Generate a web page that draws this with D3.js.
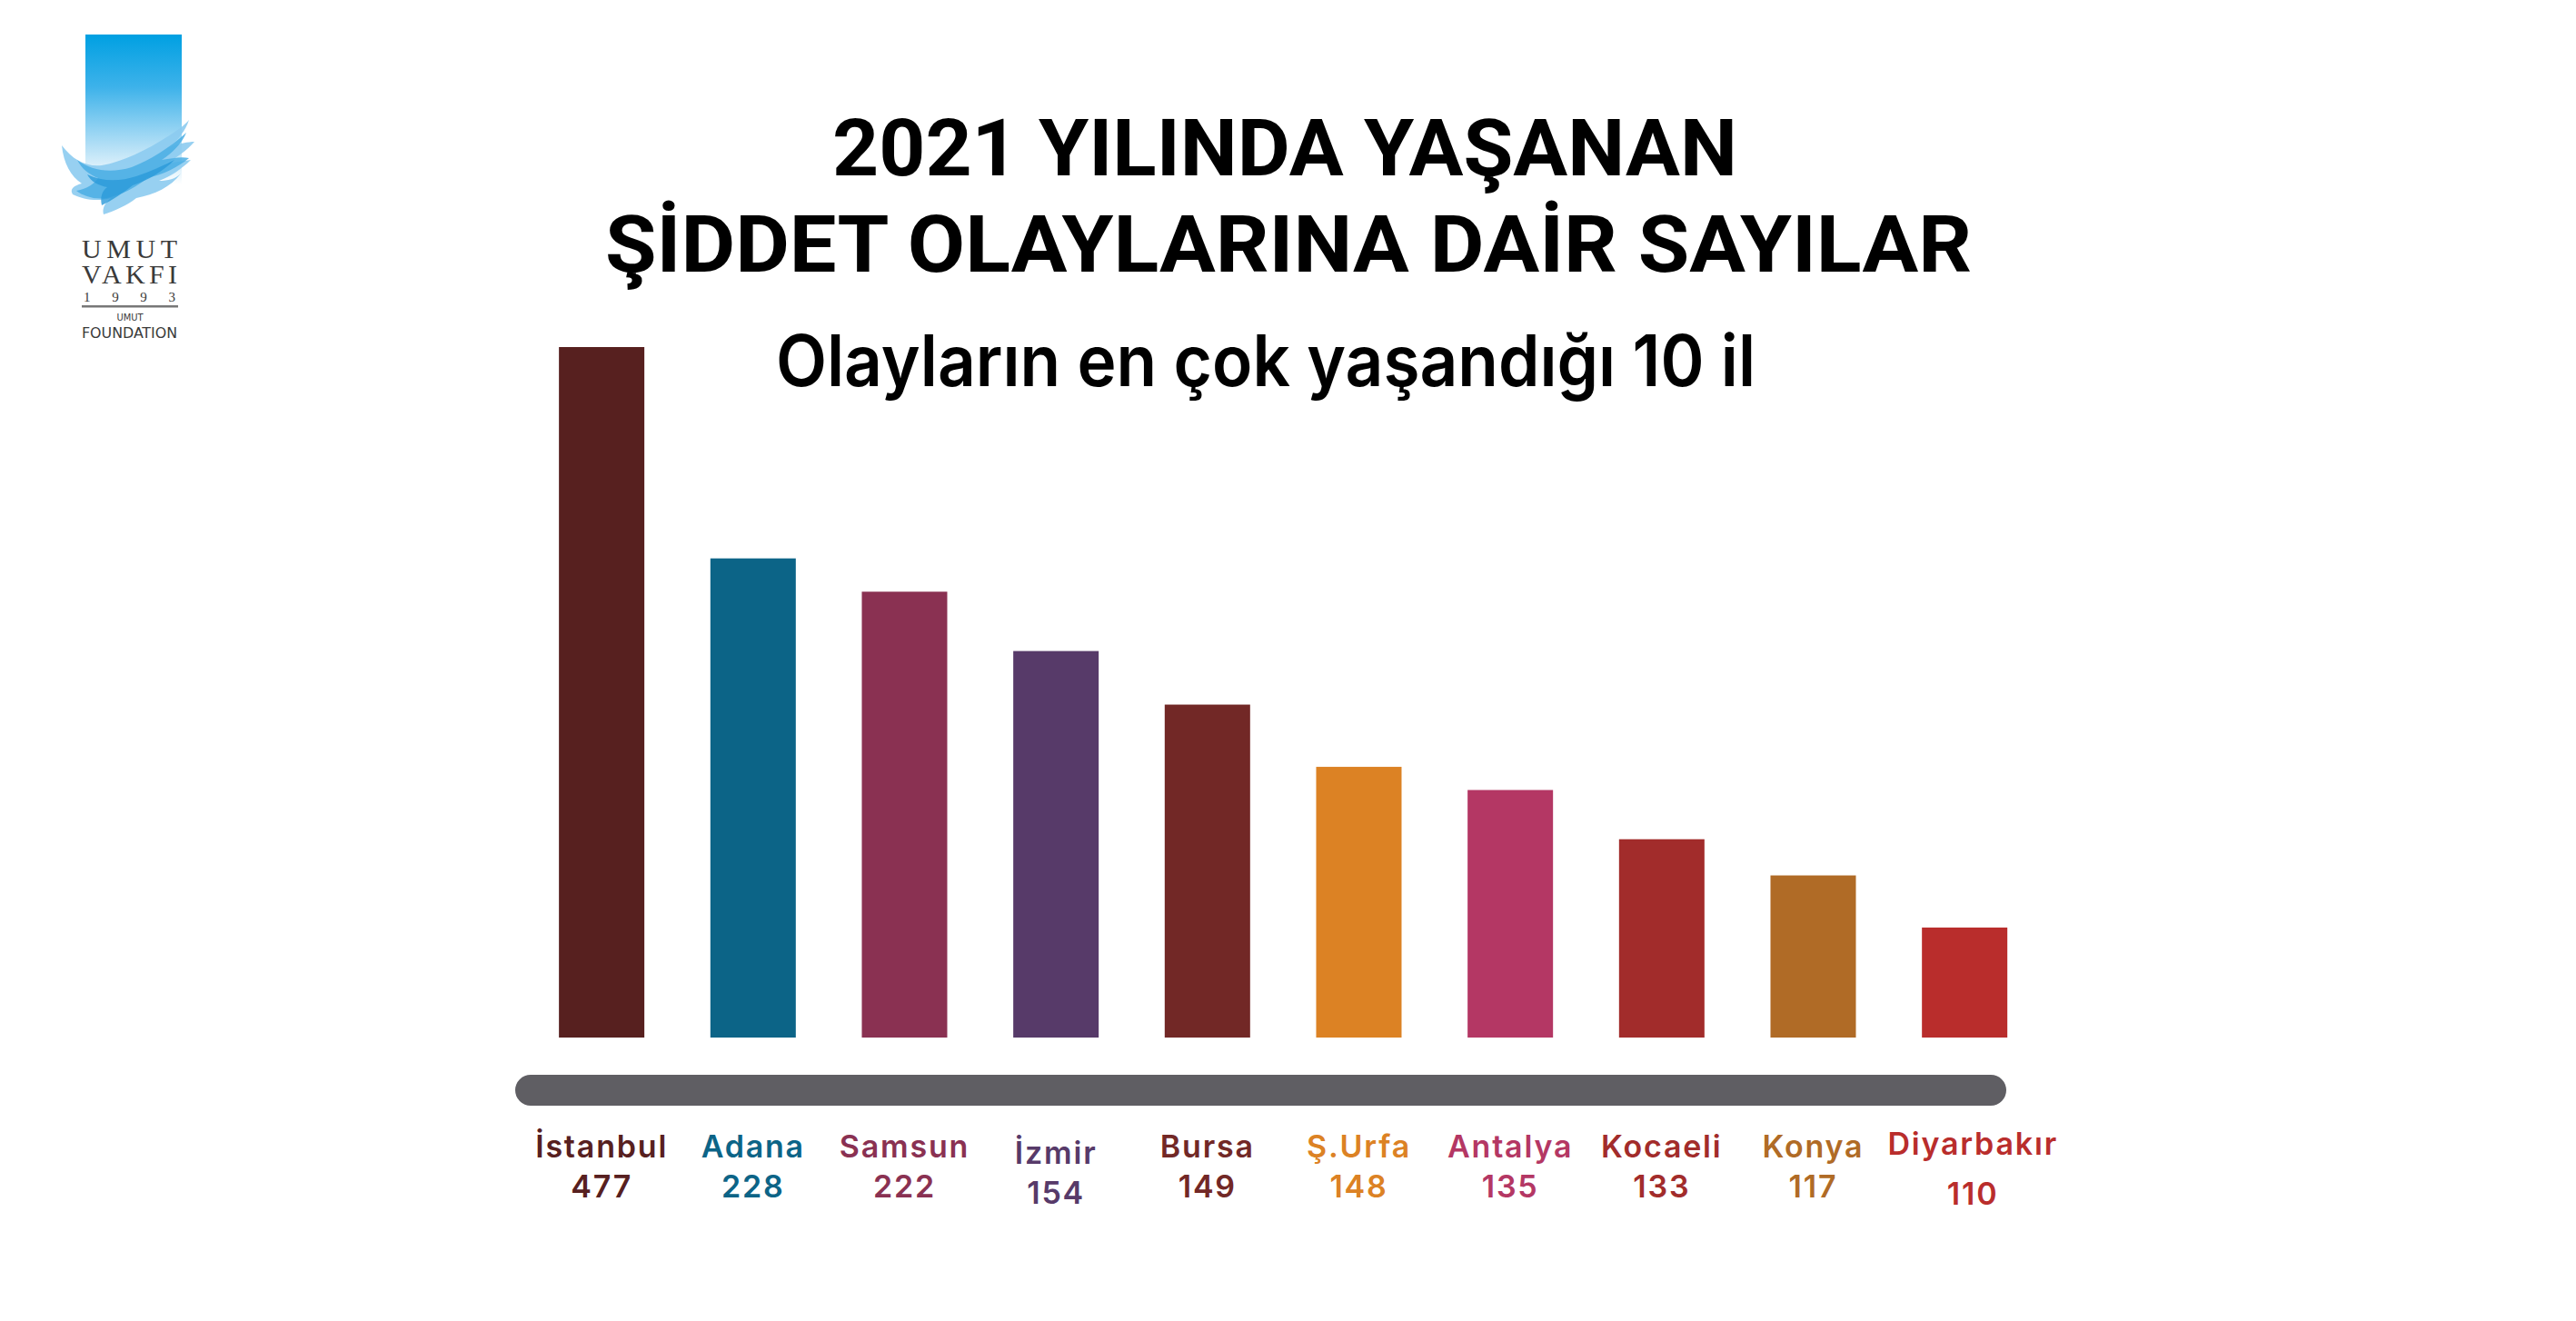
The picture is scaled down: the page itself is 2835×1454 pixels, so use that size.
<!DOCTYPE html>
<html>
<head>
<meta charset="utf-8">
<script src="https://cdn.jsdelivr.net/npm/d3@7/dist/d3.min.js"></script>
<style>
  html, body { margin: 0; padding: 0; background: #ffffff; }
  svg { display: block; }
</style>
</head>
<body>
<script>
// ---------- DATA ----------
const cities = ["İstanbul", "Adana", "Samsun", "İzmir", "Bursa", "Ş.Urfa", "Antalya", "Kocaeli", "Konya", "Diyarbakır"];
// counts printed under each bar
const counts = [477, 228, 222, 154, 149, 148, 135, 133, 117, 110];
// bar heights as drawn in the picture (same units as the counts, İstanbul = 477)
const barHeights = [477, 331, 308, 267, 230, 187, 171, 137, 112, 76];
const colors = ["#57201f", "#0c6487", "#8a3152", "#573a69", "#722826", "#dc8224", "#b43764", "#a22c2b", "#b06b26", "#b92d2c"];
const titleLines = ["2021 YILINDA YAŞANAN", "ŞİDDET OLAYLARINA DAİR SAYILAR"];
const subtitle = "Olayların en çok yaşandığı 10 il";

// ---------- LAYOUT ----------
const W = 2835, H = 1454;
const baseY = 1142, topY = 382;
const labelNudge = { "İzmir": [0, 7, 7], "Diyarbakır": [9, -3, 8] }; // dx, name dy, number dy

const svg = d3.select("body").append("svg")
  .attr("width", W).attr("height", H)
  .attr("viewBox", `0 0 ${W} ${H}`);

svg.append("rect").attr("width", W).attr("height", H).attr("fill", "#ffffff");

const data = cities.map((c, i) => ({ city: c, count: counts[i], h: barHeights[i], color: colors[i] }));

const x = d3.scaleBand()
  .domain(cities)
  .range([578.8, 2245.5])
  .paddingInner(0.436)
  .paddingOuter(0.218);

const y = d3.scaleLinear()
  .domain([0, d3.max(barHeights)])
  .range([baseY, topY]);

// ---------- TITLES ----------
const titleFont = "Roboto, 'Liberation Sans', sans-serif";
svg.append("text")
  .attr("x", 1414).attr("y", 193)
  .attr("text-anchor", "middle")
  .attr("font-family", titleFont).attr("font-weight", 700).attr("font-size", 88)
  .attr("textLength", 996).attr("lengthAdjust", "spacingAndGlyphs")
  .attr("fill", "#000")
  .text(titleLines[0]);
svg.append("text")
  .attr("x", 1418).attr("y", 299)
  .attr("text-anchor", "middle")
  .attr("font-family", titleFont).attr("font-weight", 700).attr("font-size", 88)
  .attr("textLength", 1504).attr("lengthAdjust", "spacingAndGlyphs")
  .attr("fill", "#000")
  .text(titleLines[1]);
svg.append("text")
  .attr("x", 1393).attr("y", 425)
  .attr("text-anchor", "middle")
  .attr("font-family", "Inter, 'Noto Sans', sans-serif").attr("font-weight", 600).attr("font-size", 78)
  .attr("textLength", 1078).attr("lengthAdjust", "spacingAndGlyphs")
  .attr("fill", "#000")
  .text(subtitle);

// ---------- BARS ----------
svg.append("g").selectAll("rect")
  .data(data)
  .join("rect")
  .attr("x", d => x(d.city))
  .attr("width", x.bandwidth())
  .attr("y", d => y(d.h))
  .attr("height", d => y(0) - y(d.h))
  .attr("fill", d => d.color);

// ---------- AXIS BAR ----------
svg.append("rect")
  .attr("x", 567).attr("y", 1183)
  .attr("width", 2208 - 567).attr("height", 34)
  .attr("rx", 17).attr("ry", 17)
  .attr("fill", "#5f5e63");

// ---------- LABELS ----------
const lab = svg.append("g")
  .attr("font-family", "Inter, 'Noto Sans', sans-serif")
  .attr("font-weight", 600)
  .attr("font-size", 34)
  .attr("letter-spacing", 1.8)
  .attr("text-anchor", "middle");

lab.selectAll("text.name")
  .data(data)
  .join("text")
  .attr("class", "name")
  .attr("x", d => x(d.city) + x.bandwidth() / 2 + (labelNudge[d.city] ? labelNudge[d.city][0] : 0))
  .attr("y", d => 1274 + (labelNudge[d.city] ? labelNudge[d.city][1] : 0))
  .attr("fill", d => d.color)
  .text(d => d.city);

lab.selectAll("text.num")
  .data(data)
  .join("text")
  .attr("class", "num")
  .attr("x", d => x(d.city) + x.bandwidth() / 2 + (labelNudge[d.city] ? labelNudge[d.city][0] : 0))
  .attr("y", d => 1318 + (labelNudge[d.city] ? labelNudge[d.city][2] : 0))
  .attr("fill", d => d.color)
  .text(d => d.count);

// ---------- LOGO ----------
const defs = svg.append("defs");
const grad = defs.append("linearGradient").attr("id", "lg").attr("x1", 0).attr("y1", 0).attr("x2", 0).attr("y2", 1);
grad.append("stop").attr("offset", 0).attr("stop-color", "#00a0e2");
grad.append("stop").attr("offset", 0.35).attr("stop-color", "#3db2ea");
grad.append("stop").attr("offset", 0.75).attr("stop-color", "#b5e0f6");
grad.append("stop").attr("offset", 1).attr("stop-color", "#ffffff");

const logo = svg.append("g");
logo.append("rect").attr("x", 94).attr("y", 38).attr("width", 106).attr("height", 165).attr("fill", "url(#lg)");

// dove shapes
logo.append("path")
  .attr("d", "M68,160 C80,176 95,184 112,182 C135,178 160,166 185,150 C196,143 203,138 208,132 C204,144 196,154 186,162 C198,158 207,156 214,156 C205,166 194,174 182,180 C192,179 202,177 210,176 C200,186 188,194 175,199 C185,199 193,197 199,191 C188,206 170,214 150,218 C140,226 126,232 114,236 C112,229 116,223 122,218 C108,222 92,220 80,214 C76,208 82,204 90,202 C78,194 70,180 68,160 Z")
  .attr("fill", "#8ccbef").attr("opacity", 0.9);
logo.append("path")
  .attr("d", "M85,176 C100,188 122,191 145,184 C165,176 185,164 205,146 C200,158 190,168 178,176 C190,174 200,172 208,174 C196,184 180,192 162,196 C150,206 135,214 118,218 C104,220 92,216 84,210 C96,208 104,202 108,196 C98,192 90,186 85,176 Z")
  .attr("fill", "#4aaee4").attr("opacity", 0.85);
logo.append("path")
  .attr("d", "M96,192 C112,200 132,200 150,194 C165,189 180,182 192,176 C180,188 164,198 146,204 C136,212 124,220 112,226 C110,218 112,210 118,206 C108,204 100,200 96,192 Z")
  .attr("fill", "#2b9ad9").attr("opacity", 0.8);

const serif = "'Liberation Serif', 'DejaVu Serif', serif";
logo.append("text").attr("x", 90).attr("y", 284)
  .attr("font-family", serif).attr("font-size", 30).attr("fill", "#3a3a3a")
  .attr("textLength", 105).attr("lengthAdjust", "spacing").text("UMUT");
logo.append("text").attr("x", 90).attr("y", 312)
  .attr("font-family", serif).attr("font-size", 30).attr("fill", "#3a3a3a")
  .attr("textLength", 105).attr("lengthAdjust", "spacing").text("VAKFI");
logo.append("text").attr("x", 92).attr("y", 332)
  .attr("font-family", serif).attr("font-size", 15).attr("fill", "#3a3a3a")
  .attr("textLength", 101).attr("lengthAdjust", "spacing").text("1993");
logo.append("rect").attr("x", 90).attr("y", 336).attr("width", 106).attr("height", 2.5).attr("fill", "#777");
logo.append("text").attr("x", 143).attr("y", 353).attr("text-anchor", "middle")
  .attr("font-family", "'DejaVu Sans Condensed', sans-serif").attr("font-size", 11).attr("fill", "#3a3a3a")
  .text("UMUT");
logo.append("text").attr("x", 90).attr("y", 372)
  .attr("font-family", "'DejaVu Sans Condensed', sans-serif").attr("font-size", 15).attr("fill", "#3a3a3a")
  .attr("textLength", 105).attr("lengthAdjust", "spacingAndGlyphs").text("FOUNDATION");
</script>
</body>
</html>
